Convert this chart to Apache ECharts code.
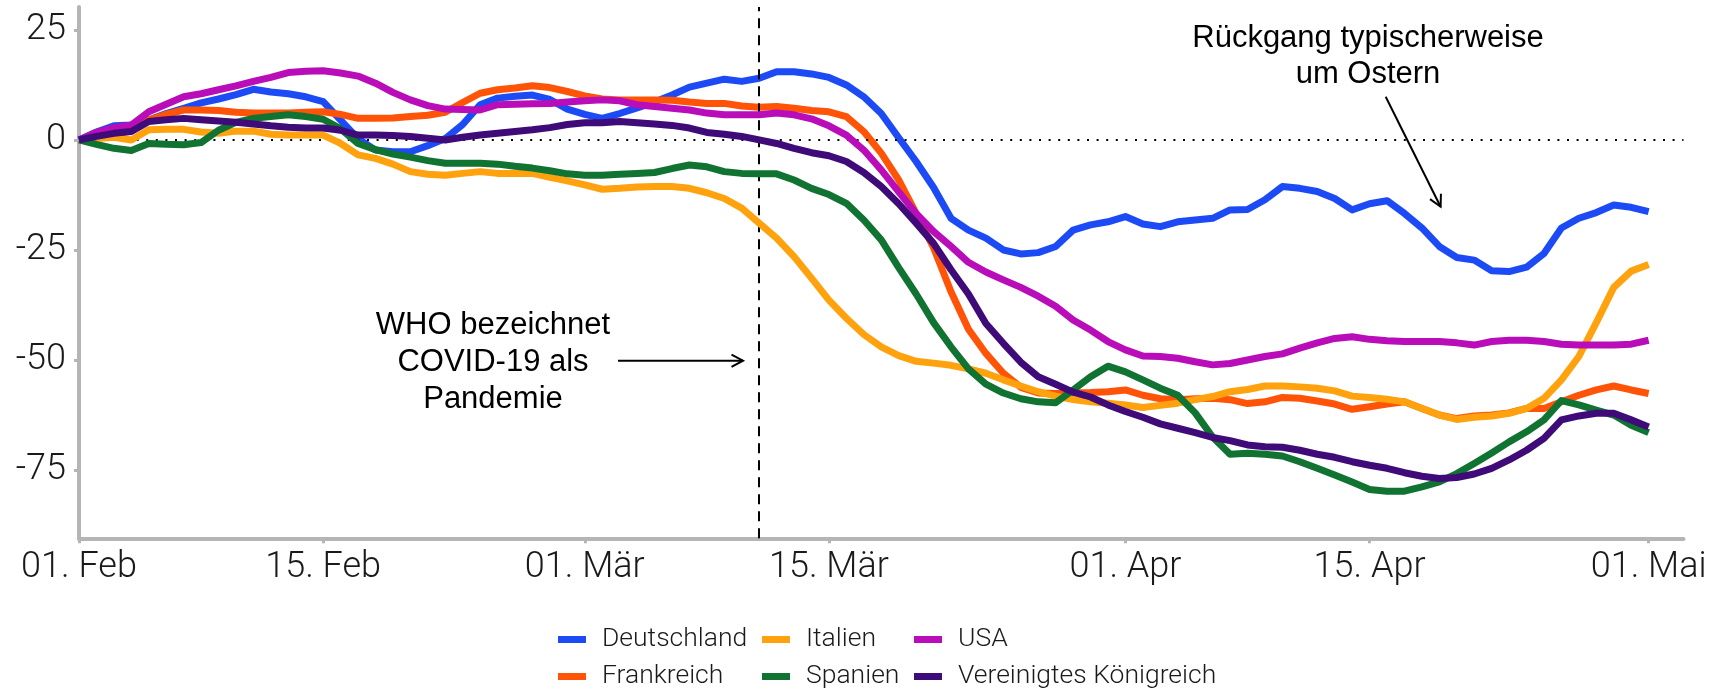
<!DOCTYPE html>
<html><head><meta charset="utf-8">
<script src="https://cdn.jsdelivr.net/npm/echarts@6/dist/echarts.min.js"></script>
<style>html,body{margin:0;padding:0;background:#fff}#c{width:1723px;height:689px}</style>
</head><body><div id="c"></div>
<script>
// ---- data ----
const countries = ['Deutschland','Frankreich','Italien','Spanien','USA','Vereinigtes Königreich'];
const colors = ['#1c4bf5','#ff5408','#ffa20e','#117332','#b80db8','#3f0b78'];
const monthNames = ['Jan','Feb','Mär','Apr','Mai','Jun'];
const yTicks = [-75,-50,-25,0,25];
const labelDays = ['01','15'];
const whoDate = '11. Mär';

const deutschland = [0,1.8,3.2,3.4,4.5,6,7.2,8.4,9.3,10.3,11.5,10.9,10.5,9.8,8.7,4.5,0.3,-2.3,-2.7,-2.7,-1.3,0.3,3.5,8,9.5,9.9,10.2,9.2,7,5.8,4.9,6,7.3,8.6,10.2,12,12.9,13.8,13.3,14,15.5,15.5,15,14.2,12.5,9.8,6,0.5,-4.9,-10.8,-17.8,-20.5,-22.3,-25,-25.9,-25.6,-24.2,-20.5,-19.3,-18.6,-17.4,-19.1,-19.7,-18.6,-18.2,-17.8,-15.9,-15.8,-13.6,-10.6,-11,-11.7,-13.3,-15.9,-14.5,-13.8,-16.7,-20,-24.2,-26.7,-27.3,-29.7,-29.9,-28.9,-25.8,-20,-17.8,-16.5,-14.8,-15.3,-16.3];
const frankreich = [0,0.5,1.1,2.3,4.5,5.8,6.8,6.8,6.7,6.3,6.1,6.1,6.1,6.3,6.4,5.8,4.9,4.9,5,5.3,5.6,6.3,8.5,10.6,11.4,11.8,12.3,11.9,11,10,9.3,9.1,9.1,9.1,9,8.6,8.3,8.3,7.7,7.4,7.6,7.2,6.7,6.4,5.3,1.9,-3,-9.1,-16.7,-24.5,-34.5,-43,-48.5,-53,-56.2,-57.5,-57.6,-57.5,-57.4,-57.2,-56.8,-58,-58.8,-59,-58.8,-58.7,-59,-59.9,-59.5,-58.5,-58.7,-59.3,-60,-61.2,-60.6,-60,-59.5,-61,-62.5,-63.3,-62.7,-62.5,-62,-61,-61,-59.5,-58,-56.8,-55.9,-56.8,-57.6];
const italien = [0,0.3,0.6,0,2.3,2.4,2.4,1.8,1.5,2,2,1.3,1.1,1.1,1.1,-0.8,-3.4,-4.2,-5.5,-7.2,-7.8,-8,-7.6,-7.2,-7.6,-7.6,-7.6,-8.5,-9.3,-10.2,-11.2,-11,-10.7,-10.6,-10.6,-11,-12,-13.3,-15.5,-18.9,-22.3,-26.5,-31.4,-36.4,-40.5,-44.2,-47,-49,-50.3,-50.7,-51.2,-52,-53,-54.5,-55.9,-57.2,-58.2,-59,-59.5,-59.8,-60.2,-60.8,-60.3,-59.8,-59,-58.3,-57.2,-56.7,-55.9,-55.9,-56.1,-56.4,-57,-58.2,-58.5,-58.9,-59.5,-61,-62.5,-63.5,-63,-62.7,-62.1,-61,-58.7,-54.5,-49.2,-41.5,-33.5,-29.8,-28.3];
const spanien = [0,-1,-1.9,-2.4,-0.8,-1,-1.1,-0.6,2.2,4,4.9,5.3,5.7,5.3,4.7,2.5,-0.8,-2.2,-3.2,-3.9,-4.7,-5.3,-5.3,-5.3,-5.5,-6,-6.4,-7,-7.7,-8,-8,-7.8,-7.6,-7.4,-6.5,-5.7,-6.1,-7.2,-7.6,-7.7,-7.7,-9.1,-11,-12.4,-14.4,-18.2,-22.7,-29,-35,-41.5,-47,-52,-55.5,-57.5,-58.8,-59.5,-59.7,-56.8,-53.8,-51.4,-52.7,-54.5,-56.4,-58,-62,-67.5,-71.4,-71.2,-71.4,-71.8,-73.1,-74.6,-76.1,-77.7,-79.4,-79.8,-79.8,-78.8,-77.7,-75.8,-73.5,-71.1,-68.6,-66.3,-63.6,-59.2,-60.2,-61.4,-62.5,-64.8,-66.5];
const usa = [0,1.7,2.8,3.4,6.4,8.1,9.8,10.5,11.4,12.3,13.3,14.2,15.3,15.6,15.7,15.2,14.5,12.9,10.8,9.1,7.8,7,6.9,6.8,8,8.1,8.2,8.3,8.6,8.9,9.1,8.9,8,7.6,7.2,6.8,6.1,5.7,5.7,5.7,6.1,5.7,4.8,3.2,1.1,-2.3,-6.8,-11.8,-16.7,-20.8,-24.2,-27.8,-30,-31.8,-33.5,-35.5,-37.8,-40.9,-43.2,-45.8,-47.7,-49.1,-49.2,-49.6,-50.4,-51.1,-50.8,-50,-49.2,-48.6,-47.3,-46.1,-45.1,-44.7,-45.3,-45.6,-45.8,-45.8,-45.8,-46.1,-46.6,-45.8,-45.5,-45.5,-45.8,-46.4,-46.6,-46.6,-46.6,-46.4,-45.5];
const vk = [0,0.8,1.5,1.9,4.2,4.6,4.9,4.6,4.3,4,3.6,3.2,2.9,2.7,2.7,2.2,1.1,1.1,1,0.8,0.4,0,0.6,1.1,1.5,1.9,2.3,2.8,3.5,3.9,3.9,4.2,3.9,3.6,3.3,2.7,1.7,1.3,0.8,0,-0.8,-1.9,-2.9,-3.6,-4.9,-7.4,-10.6,-14.5,-18.9,-23.5,-29.5,-35,-41.7,-46.2,-50.5,-53.8,-55.5,-57.3,-58.4,-60.2,-61.7,-63,-64.5,-65.5,-66.5,-67.6,-68.3,-69.3,-69.7,-69.8,-70.5,-71.4,-72.1,-73.1,-73.9,-74.6,-75.6,-76.4,-76.9,-76.7,-75.9,-74.6,-72.7,-70.5,-67.8,-63.6,-62.7,-62.1,-62.1,-63.6,-65.2];
const seriesValues = [deutschland, frankreich, italien, spanien, usa, vk];

// categories: 01. Feb 2020 .. 03. Mai 2020 (axis runs two days past the last value)
const nDays = 93;
const categories = [];
for (let i = 0; i < nDays; i++) {
  const d = new Date(Date.UTC(2020, 1, 1 + i));
  categories.push(String(d.getUTCDate()).padStart(2,'0') + '. ' + monthNames[d.getUTCMonth()]);
}
const showLabel = (i, v) => labelDays.indexOf(v.slice(0,2)) >= 0;

const axisGrey = '#b5b5b5';
const tickFont = {fontFamily:'Roboto', fontWeight:300, fontSize:36, color:'#1a1a1a'};

const series = countries.map((name, k) => ({
  name, type:'line', data: seriesValues[k], showSymbol:false, symbol:'none',
  lineStyle:{width:7, color:colors[k], cap:'butt', join:'round'},
  itemStyle:{color:colors[k]}, z: 3 + k, silent:true, animation:false
}));
series.unshift({
  type:'line', data:[], z:1, silent:true, animation:false,
  markLine:{silent:true, symbol:'none', label:{show:false}, animation:false,
    lineStyle:{type:[2,7.6], color:'#000', width:2}, data:[{yAxis:0}]}
});
series.push({
  type:'line', data:[], z:20, silent:true, animation:false,
  markLine:{silent:true, symbol:'none', label:{show:false}, animation:false,
    lineStyle:{type:[10,7], color:'#000', width:2}, data:[{xAxis:whoDate}]}
});

const legendCommon = {
  orient:'vertical', icon:'rect', itemWidth:28, itemHeight:7, itemGap:10, top:626, padding:0,
  height:70,
  textStyle:{fontFamily:'Roboto', fontWeight:300, fontSize:26.5, color:'#1a1a1a', padding:[0,0,0,11]},
  selectedMode:false
};

function arrow(x1,y1,x2,y2){
  const dx=x2-x1, dy=y2-y1, L=Math.hypot(dx,dy), ux=dx/L, uy=dy/L;
  const a=28*Math.PI/180, h=13;
  const bx=-ux, by=-uy;
  const p1=[x2+h*(bx*Math.cos(a)-by*Math.sin(a)), y2+h*(bx*Math.sin(a)+by*Math.cos(a))];
  const p2=[x2+h*(bx*Math.cos(-a)-by*Math.sin(-a)), y2+h*(bx*Math.sin(-a)+by*Math.cos(-a))];
  return [
    {type:'line', shape:{x1,y1,x2,y2}, style:{stroke:'#000', lineWidth:2}, silent:true},
    {type:'polyline', shape:{points:[p1,[x2,y2],p2]}, style:{stroke:'#000', lineWidth:2, fill:null}, silent:true}
  ];
}
const annFont = '31px "Liberation Sans"';

const chart = echarts.init(document.getElementById('c'), null, {renderer:'canvas'});
chart.setOption({
  animation:false,
  backgroundColor:'#fff',
  grid:{left:79, right:39.5, top:7, bottom:150.7, containLabel:false},
  xAxis:{type:'category', data:categories, boundaryGap:false,
    axisLine:{onZero:false, lineStyle:{color:axisGrey, width:4}},
    axisTick:{interval:showLabel, length:5, lineStyle:{color:axisGrey, width:3}},
    axisLabel:{interval:showLabel, margin:12, ...tickFont},
    splitLine:{show:false}},
  yAxis:{type:'value', min:-90.5, max:30.2,
    axisLine:{show:true, onZero:false, lineStyle:{color:axisGrey, width:4}},
    axisTick:{show:true, customValues:yTicks, length:5, lineStyle:{color:axisGrey, width:3}},
    axisLabel:{customValues:yTicks, margin:13, ...tickFont},
    splitLine:{show:false}},
  legend:[
    {...legendCommon, left:558, data:[countries[0],countries[1]]},
    {...legendCommon, left:762, data:[countries[2],countries[3]]},
    {...legendCommon, left:914, data:[countries[4],countries[5]]}
  ],
  series,
  graphic:[
    {type:'text', silent:true, style:{text:'WHO bezeichnet\nCOVID-19 als\nPandemie', x:493, y:307.5, align:'center', verticalAlign:'top', font:annFont, lineHeight:36.6, fill:'#000'}},
    {type:'text', silent:true, style:{text:'Rückgang typischerweise\num Ostern', x:1368, y:20, align:'center', verticalAlign:'top', font:annFont, lineHeight:36, fill:'#000'}},
    ...arrow(618,360.7,743,360.7),
    ...arrow(1385.7,96.7,1440.6,206.7)
  ]
});
</script></body></html>
